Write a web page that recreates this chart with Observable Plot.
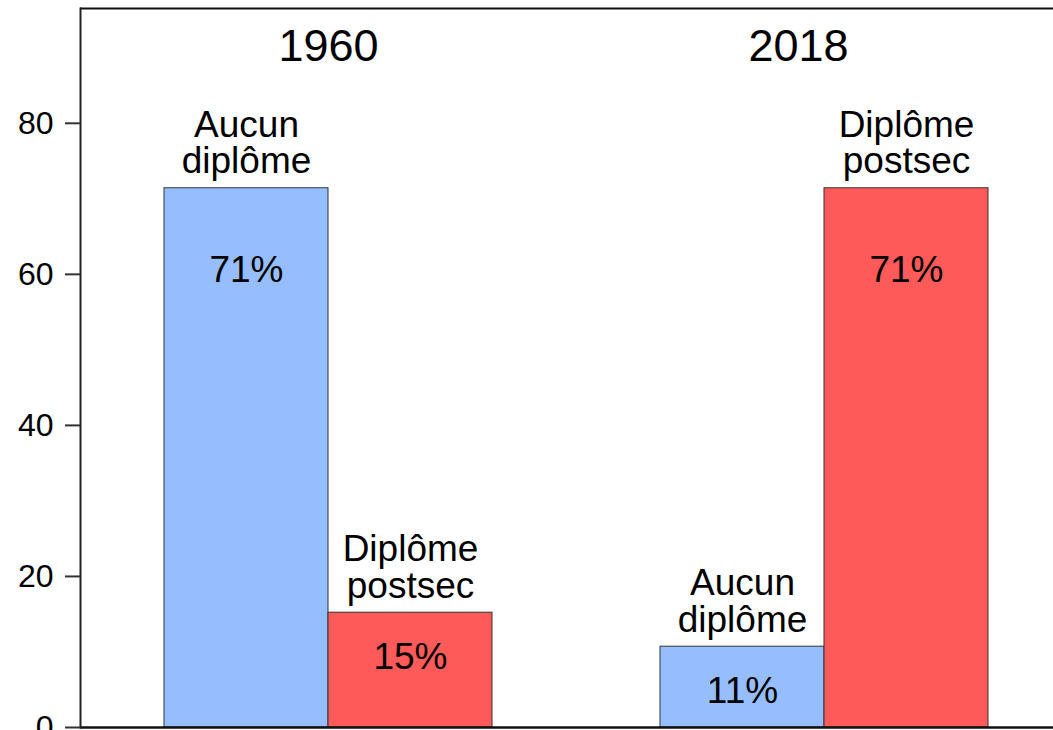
<!DOCTYPE html>
<html><head><meta charset="utf-8">
<script src="https://cdn.jsdelivr.net/npm/d3@7"></script>
<script src="https://cdn.jsdelivr.net/npm/@observablehq/plot@0.6"></script>
<style>html,body{margin:0;padding:0;overflow:hidden;background:#fff} svg{max-width:none !important}</style>
</head><body><div id="chart"></div>
<script>
const years = ["1960", "2018"];
const categories = ["Aucun diplôme", "Diplôme postsec"];
const categoryLabels = ["Aucun\ndiplôme", "Diplôme\npostsec"];
const values1960 = [71.4, 15.2];
const values2018 = [10.7, 71.4];
const percentLabels1960 = ["71%", "15%"];
const percentLabels2018 = ["11%", "71%"];
const yTicks = [0, 20, 40, 60, 80];
const colors = ["#96BEFF", "#FF5A5A"];
const yMax = 95.2;

const data = [];
years.forEach((year, i) => {
  const vals = i === 0 ? values1960 : values2018;
  const pcts = i === 0 ? percentLabels1960 : percentLabels2018;
  categories.forEach((c, j) => data.push({year, category: c, label: categoryLabels[j], value: vals[j], pct: pcts[j]}));
});

const font = "'Liberation Sans', Arial, sans-serif";
const chart = Plot.plot({
  width: 1072, height: 730,
  marginLeft: 80, marginRight: 0, marginTop: 8, marginBottom: 3,
  style: {fontFamily: font, color: "#000", background: "#fff", maxWidth: "none"},
  fx: {domain: years, padding: 0, axis: null, label: null},
  x: {domain: categories, padding: 0, insetLeft: 84, insetRight: 84, axis: null, label: null},
  y: {domain: [0, yMax], axis: null, label: null},
  color: {domain: categories, range: colors},
  marks: [
    Plot.barY(data, {fx: "year", x: "category", y: "value", fill: "category", stroke: "#333", strokeWidth: 1}),
    Plot.text(data, {fx: "year", x: "category", y: "value", text: "label", lineAnchor: "bottom", lineHeight: 0.98, dy: -15, fontSize: 37, fill: "#000"}),
    Plot.text(data, {fx: "year", x: "category", y: d => d.value > 30 ? d.value - 10.9 : d.value - 5.9, text: "pct", fontSize: 37, fill: "#000"}),
    Plot.text([years[0]], {fx: d => d, text: d => d, frameAnchor: "top", lineAnchor: "bottom", dy: 52, fontSize: 45, fill: "#000"}),
    Plot.text([years[1]], {fx: d => d, text: d => d, frameAnchor: "top", lineAnchor: "bottom", dy: 52, dx: -26, fontSize: 45, fill: "#000"}),
    Plot.ruleY([0], {strokeWidth: 2.5, stroke: "#111"}),
    Plot.ruleY([yMax], {strokeWidth: 2, stroke: "#111"}),
    Plot.frame({anchor: "left", facetAnchor: "left", strokeWidth: 2, stroke: "#222"}),
    Plot.axisY(yTicks, {tickSize: 15, tickPadding: 12, fontSize: 32, strokeWidth: 2, stroke: "#333", label: null, tickFormat: d => String(d)})
  ]
});
document.getElementById("chart").appendChild(chart);
</script>
</body></html>
